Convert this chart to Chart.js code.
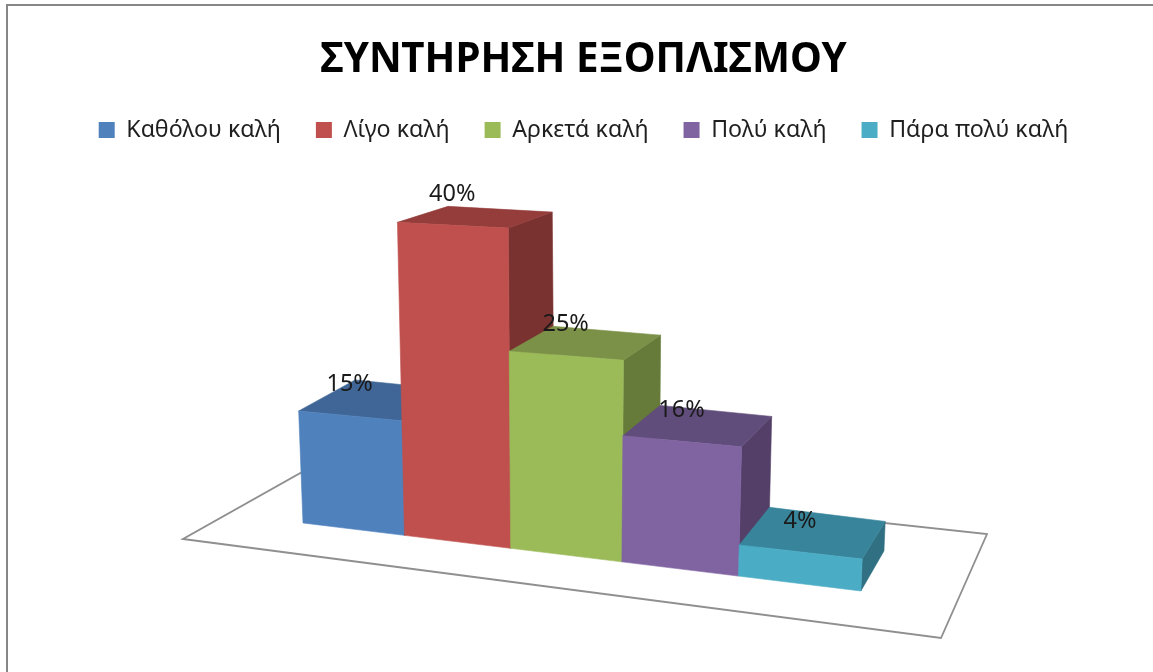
<!DOCTYPE html>
<html>
<head>
<meta charset="utf-8">
<style>
html,body{margin:0;padding:0;background:#fff;overflow:hidden}
canvas{display:block;filter:blur(0.5px)}
</style>
<script src="https://cdn.jsdelivr.net/npm/chart.js@4"></script>
</head>
<body>
<canvas id="c" width="1153" height="672"></canvas>
<script>
const chartTitle = 'ΣΥΝΤΗΡΗΣΗ ΕΞΟΠΛΙΣΜΟΥ';
const categories = [''];
const seriesNames = ['Καθόλου καλή', 'Λίγο καλή', 'Αρκετά καλή', 'Πολύ καλή', 'Πάρα πολύ καλή'];
const seriesValues = [15, 40, 25, 16, 4];
const frontColors = ['#4F81BD', '#C0504D', '#9BBB59', '#8064A2', '#4BACC6'];
const topColors = ['#3F6696', '#943D3B', '#7A9147', '#614D7B', '#38859B'];
const sideColors = ['#335479', '#7A3230', '#667A39', '#533F67', '#307082'];
const FONT = '"Noto Sans", sans-serif';

// Projects bar-space (slot t along the front, value h, depth d) to the page.
function project(t, h, d, tLeft) {
  const along = s => (92.55 * s + 303) / (1 - 0.0221 * s);
  const xb = along(t), xl = along(tLeft);
  const yb = 523 + 0.1219 * (xb - 303);
  const k = 7.88 - 9.4e-11 * Math.pow(xl - 560, 4) + 0.0017 * (xb - xl);
  const x = xb + (xb - 565) * 0.0011 * h;
  const y = yb - h * k;
  return [x + (44 - 0.0593 * (x - 508)) * d, y - (40 - 0.6 * h) * d];
}

function face(ctx, pts, color) {
  ctx.beginPath();
  pts.forEach((p, i) => i ? ctx.lineTo(p[0], p[1]) : ctx.moveTo(p[0], p[1]));
  ctx.closePath();
  ctx.fillStyle = color;
  ctx.strokeStyle = color;
  ctx.lineWidth = 0.6;
  ctx.fill();
  ctx.stroke();
}

const bars3d = {
  id: 'bars3d',
  beforeDraw(chart) {
    const ctx = chart.ctx;
    ctx.save();
    ctx.strokeStyle = '#868686';
    ctx.lineWidth = 2;
    ctx.beginPath();
    ctx.moveTo(7, 672); ctx.lineTo(7, 5); ctx.lineTo(1153, 5);
    ctx.stroke();
    ctx.strokeStyle = '#8f8f8f';
    ctx.lineWidth = 1.8;
    ctx.lineJoin = 'miter';
    ctx.beginPath();
    ctx.moveTo(183, 539); ctx.lineTo(941, 638); ctx.lineTo(987, 534); ctx.lineTo(320, 462);
    ctx.closePath();
    ctx.stroke();
    ctx.restore();
  },
  beforeDatasetsDraw(chart) {
    const ctx = chart.ctx, yScale = chart.scales.y;
    const first = chart.getDatasetMeta(0).data[0];
    const slot = first.width, origin = first.x - slot / 2;
    ctx.save();
    chart.data.datasets.forEach((ds, i) => {
      const el = chart.getDatasetMeta(i).data[0];
      const a = (el.x - slot / 2 - origin) / slot;
      const b = (el.x + slot / 2 - origin) / slot;
      const h = yScale.getValueForPixel(el.y);
      const P = (t, v, d) => project(t, v, d, a);
      face(ctx, [P(b, 0, 0), P(b, h, 0), P(b, h, 1), P(b, 0, 1)], sideColors[i]);
      face(ctx, [P(a, h, 0), P(b, h, 0), P(b, h, 1), P(a, h, 1)], topColors[i]);
      face(ctx, [P(a, 0, 0), P(b, 0, 0), P(b, h, 0), P(a, h, 0)], ds.backgroundColor);
    });
    ctx.fillStyle = '#1a1a1a';
    ctx.font = '23.5px ' + FONT;
    ctx.textAlign = 'center';
    ctx.textBaseline = 'middle';
    chart.data.datasets.forEach((ds, i) => {
      const el = chart.getDatasetMeta(i).data[0];
      const a = (el.x - slot / 2 - origin) / slot;
      const h = yScale.getValueForPixel(el.y);
      const p = project(a + 0.5, h, 0, a);
      ctx.fillText(ds.data[0] + '%', p[0], p[1] - 31);
    });
    ctx.restore();
    return false;
  }
};

new Chart(document.getElementById('c'), {
  type: 'bar',
  data: {
    labels: categories,
    datasets: seriesNames.map((name, i) => ({
      label: name,
      data: [seriesValues[i]],
      backgroundColor: frontColors[i],
      borderWidth: 0
    }))
  },
  options: {
    responsive: false,
    animation: false,
    layout: { padding: { left: 14, right: 0, top: 36, bottom: 40 } },
    scales: {
      x: { display: false },
      y: { display: false, min: 0, max: 45 }
    },
    datasets: { bar: { barPercentage: 1, categoryPercentage: 0.6 } },
    plugins: {
      tooltip: { enabled: false },
      title: {
        display: true,
        text: chartTitle,
        color: '#000',
        font: { family: FONT, size: 40.3, weight: 'bold' },
        padding: { top: 0, bottom: -1 }
      },
      legend: {
        display: true,
        position: 'top',
        labels: {
          color: '#1f1f1f',
          font: { family: FONT, size: 23.2 },
          boxWidth: 16,
          boxHeight: 16,
          padding: 35
        }
      }
    }
  },
  plugins: [bars3d]
});
</script>
</body>
</html>
